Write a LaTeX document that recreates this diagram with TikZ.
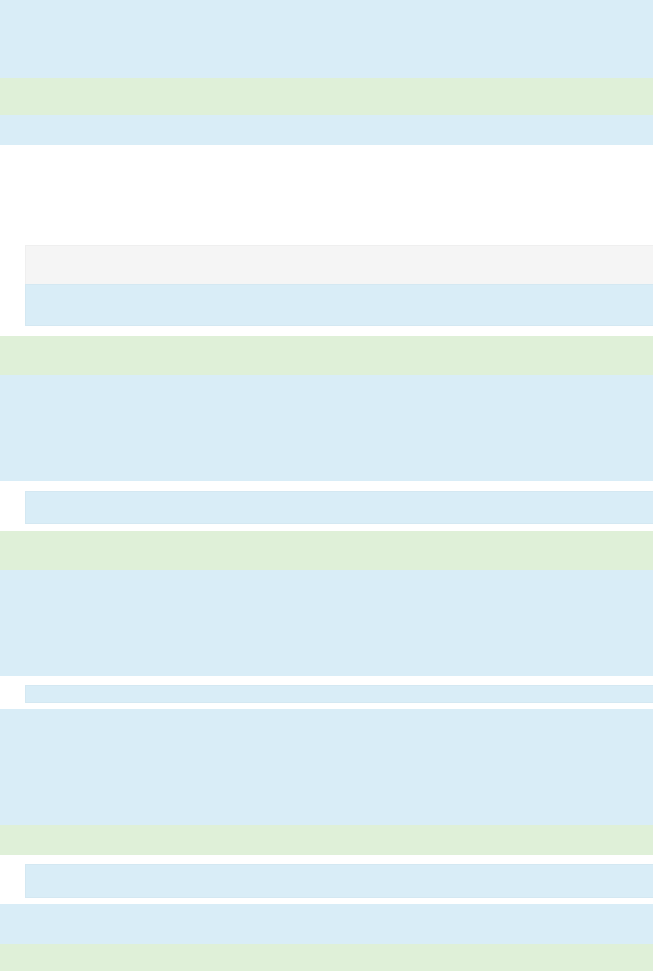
\documentclass[tikz,border=0pt]{standalone}
\definecolor{infobg}{HTML}{D9EDF7}
\definecolor{okbg}{HTML}{DFF0D8}
\definecolor{graybg}{HTML}{F5F5F5}
\definecolor{infoedge}{HTML}{D4E8F2}
\definecolor{grayedge}{HTML}{EFEFEF}
\tikzset{
  info/.style={fill=infobg},
  ok/.style={fill=okbg},
  gray/.style={fill=graybg},
  info edge/.style={draw=infoedge, line width=0.8pt},
  gray edge/.style={draw=grayedge, line width=0.8pt},
}
% indented box: fill, then an open border on its top, left and bottom sides
\newcommand{\indentbox}[4]{%
  \path[#1] (25.4,#3) rectangle (653,#4);
  \draw[#2] (653,#3) -- (25.4,#3) -- (25.4,#4) -- (653,#4);
}
\begin{document}
\begin{tikzpicture}[x=1pt,y=-1pt]
\useasboundingbox[fill=white] (0,0) rectangle (653,971);
% full-width bands
\path[info] (0,0) rectangle (653,78);
\path[ok]   (0,78) rectangle (653,115);
\path[info] (0,115) rectangle (653,145);
% indented pair
\indentbox{gray}{gray edge}{245.4}{284}
\indentbox{info}{info edge}{284}{325}
\path[ok]   (0,336) rectangle (653,375);
\path[info] (0,375) rectangle (653,481);
\indentbox{info}{info edge}{491}{523}
\path[ok]   (0,531) rectangle (653,570);
\path[info] (0,570) rectangle (653,676);
\indentbox{info}{info edge}{685}{702}
\path[info] (0,709) rectangle (653,825);
\path[ok]   (0,825) rectangle (653,855);
\indentbox{info}{info edge}{864}{897}
\path[info] (0,904) rectangle (653,944);
\path[ok]   (0,944) rectangle (653,971);
\end{tikzpicture}
\end{document}
